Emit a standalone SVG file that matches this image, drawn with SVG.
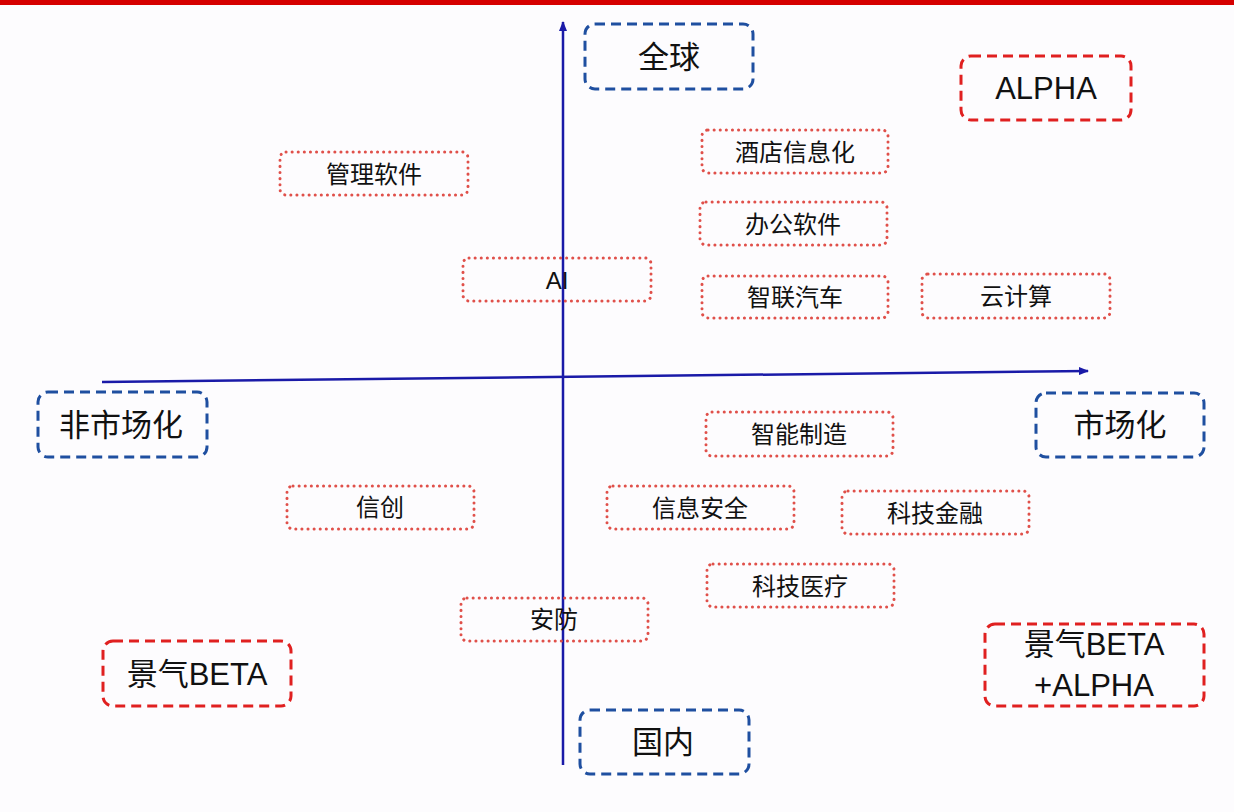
<svg xmlns="http://www.w3.org/2000/svg" width="1234" height="812" viewBox="0 0 1234 812">
<defs>
<style>
.dot{fill:none;stroke:#e0504a;stroke-width:3;stroke-dasharray:0.1 6;stroke-linecap:round}
.bl{fill:none;stroke:#1f4fa0;stroke-width:3;stroke-dasharray:10 6}
.rd{fill:none;stroke:#e02020;stroke-width:3;stroke-dasharray:10 6}
.t{font-family:"Liberation Sans","Noto Sans CJK SC",sans-serif;fill:#111;text-anchor:middle;dominant-baseline:central}
.s{font-size:24px}
.l{font-size:31px}
.ax{stroke:#1a1aa8;stroke-width:2.5;fill:none}
</style>
<marker id="ah" markerWidth="10" markerHeight="8" refX="9" refY="4" orient="auto" markerUnits="userSpaceOnUse"><path d="M0,0 L10,4 L0,8 z" fill="#1a1aa8"/></marker>
</defs>
<rect width="1234" height="812" fill="#fdfcfe"/>
<rect width="1234" height="5" fill="#d60000"/>
<g id="connectors">
<line class="ax" x1="563" y1="765" x2="563" y2="22" marker-end="url(#ah)"/>
<line class="ax" x1="102" y1="382" x2="1088" y2="371" marker-end="url(#ah)"/>
</g>
<g id="n1"><rect class="dot" x="280" y="152" width="188" height="43" rx="6"/><text class="t s" x="374" y="174">管理软件</text></g>
<g id="n2"><rect class="dot" x="702" y="130" width="186" height="43" rx="6"/><text class="t s" x="795" y="152">酒店信息化</text></g>
<g id="n3"><rect class="dot" x="700" y="202" width="187" height="43" rx="6"/><text class="t s" x="793" y="224">办公软件</text></g>
<g id="n4"><rect class="dot" x="463" y="258" width="188" height="43" rx="6"/><text class="t s" x="557" y="280">AI</text></g>
<g id="n5"><rect class="dot" x="702" y="276" width="186" height="42" rx="6"/><text class="t s" x="795" y="297">智联汽车</text></g>
<g id="n6"><rect class="dot" x="922" y="274" width="188" height="44" rx="6"/><text class="t s" x="1016" y="296">云计算</text></g>
<g id="n7"><rect class="dot" x="706" y="412" width="187" height="44" rx="6"/><text class="t s" x="799" y="434">智能制造</text></g>
<g id="n8"><rect class="dot" x="287" y="486" width="187" height="43" rx="6"/><text class="t s" x="380" y="507">信创</text></g>
<g id="n9"><rect class="dot" x="607" y="486" width="187" height="43" rx="6"/><text class="t s" x="700" y="508">信息安全</text></g>
<g id="n10"><rect class="dot" x="842" y="491" width="187" height="43" rx="6"/><text class="t s" x="935" y="513">科技金融</text></g>
<g id="n11"><rect class="dot" x="707" y="564" width="187" height="43" rx="6"/><text class="t s" x="800" y="586">科技医疗</text></g>
<g id="n12"><rect class="dot" x="461" y="598" width="187" height="43" rx="6"/><text class="t s" x="554" y="619">安防</text></g>
<g id="q1"><rect class="bl" x="585" y="24" width="168" height="65" rx="10"/><text class="t l" x="669" y="57">全球</text></g>
<g id="q2"><rect class="bl" x="38" y="392" width="169" height="65" rx="10"/><text class="t l" x="121" y="425">非市场化</text></g>
<g id="q3"><rect class="bl" x="1036" y="393" width="168" height="64" rx="10"/><text class="t l" x="1120" y="425">市场化</text></g>
<g id="q4"><rect class="bl" x="580" y="710" width="169" height="64" rx="10"/><text class="t l" x="663" y="742">国内</text></g>
<g id="r1"><rect class="rd" x="961" y="56" width="170" height="64" rx="10"/><text class="t l" x="1046" y="88">ALPHA</text></g>
<g id="r2"><rect class="rd" x="103" y="641" width="188" height="65" rx="10"/><text class="t l" x="197" y="674">景气BETA</text></g>
<g id="r3"><rect class="rd" x="985" y="624" width="219" height="82" rx="10"/><text class="t l" x="1094" y="644">景气BETA</text><text class="t l" x="1094" y="685">+ALPHA</text></g>
</svg>
